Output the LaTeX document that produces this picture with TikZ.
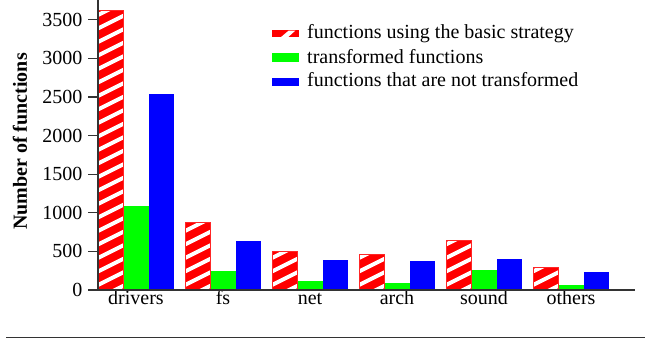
\documentclass[tikz,border=0pt]{standalone}
\usepackage{fontspec}
\setmainfont{Liberation Serif}
\begin{document}
\begin{tikzpicture}[x=1pt,y=-1pt,
  axis/.style={draw=black!80, line width=1.3},
  lbl/.style={font=\fontsize{20}{24}\selectfont, inner sep=0pt},
  hatchline/.style={white, line width=4pt}
]
\useasboundingbox (0,0) rectangle (651,339);

% bars
\foreach \g/\r/\gr/\b [count=\i from 0] in {drivers/3625/1090/2545, fs/870/240/630, net/505/121/393, arch/462/90/380, sound/640/260/398, others/290/60/237}{
  \pgfmathsetmacro\xo{98+87*\i}
  \pgfmathsetmacro\yr{290-0.0772*\r}
  \pgfmathsetmacro\yg{290-0.0772*\gr}
  \pgfmathsetmacro\yb{290-0.0772*\b}
  \begin{scope}
    \clip (\xo,\yr) rectangle (\xo+25.5,290);
    \fill[red] (\xo,\yr) rectangle (\xo+25.5,290);
    \foreach \k in {0,...,24} \draw[hatchline] (\xo-3,{300-13.5*\k}) -- ++(32,-16);
  \end{scope}
  \draw[red!85!white, line width=0.8pt] (\xo,\yr) rectangle (\xo+25.5,290);
  \fill[green] (\xo+25.5,\yg) rectangle (\xo+50.5,290);
  \fill[blue] (\xo+50.5,\yb) rectangle (\xo+76,290);
  \node[lbl, anchor=base] (x\g) at (\xo+38,305) {\g};
}

% axes
\draw[axis] (98,0) -- (98,290);
\draw[axis] (88,290) -- (635,290);
\foreach \v in {0,500,...,3500}{
  \pgfmathsetmacro\yy{290-0.0772*\v}
  \draw[axis] (88,\yy) -- (98,\yy);
  \node[lbl, anchor=east] (t\v) at (82.5,\yy) {\v};
}
\node[lbl, font=\fontsize{20}{24}\selectfont\bfseries, rotate=90, anchor=base west] (ylabel) at (27,230) {Number of functions};

% legend
\fill[red] (272,30) rectangle (299,37.3);
\fill[white] (280.7,37.3) -- (288,37.3) -- (295.3,30.6) -- (288.7,30.6) -- cycle;
\fill[green] (272,52.7) rectangle (299,62);
\fill[blue] (272,77.7) rectangle (299,86);
\node[lbl, anchor=base west] (l1) at (307,38.5) {functions using the basic strategy};
\node[lbl, anchor=base west] (l2) at (307,63.3) {transformed functions};
\node[lbl, anchor=base west] (l3) at (307,86.7) {functions that are not transformed};

% bottom rule
\draw[black!80, line width=1pt] (6,337) -- (645,337);
\end{tikzpicture}
\end{document}
